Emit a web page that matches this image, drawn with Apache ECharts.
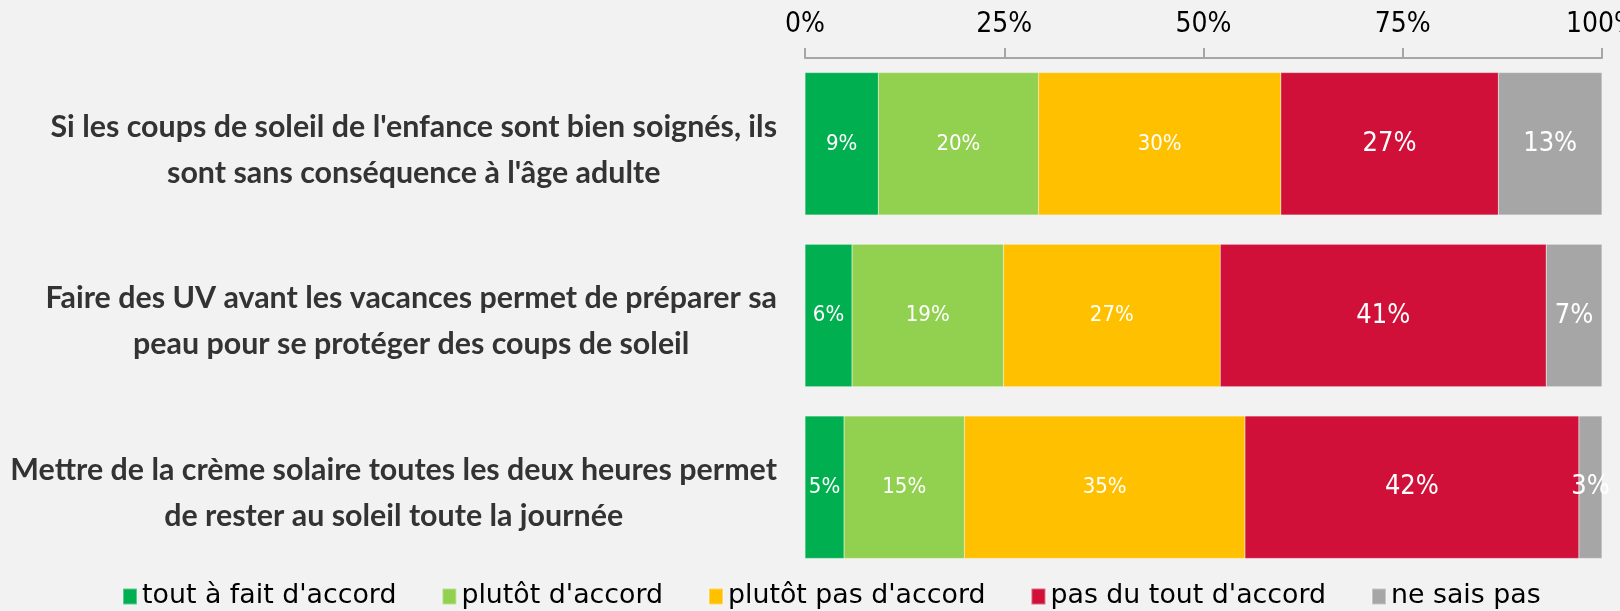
<!DOCTYPE html>
<html>
<head>
<meta charset="utf-8">
<script src="https://cdn.jsdelivr.net/npm/echarts@6/dist/echarts.min.js"></script>
<style>
  html, body { margin: 0; padding: 0; background: #f2f2f2; }
  #chart { width: 1620px; height: 611px; }
</style>
</head>
<body>
<div id="chart"></div>
<script>
// statements (top to bottom)
const categories = [
	"Si les coups de soleil de l'enfance sont bien soignés, ils\nsont sans conséquence à l'âge adulte",
	"Faire des UV avant les vacances permet de préparer sa\npeau pour se protéger des coups de soleil",
	"Mettre de la crème solaire toutes les deux heures permet\nde rester au soleil toute la journée"
];
const seriesNames = ["tout à fait d'accord", "plutôt d'accord", "plutôt pas d'accord", "pas du tout d'accord", "ne sais pas"];

// shares in %, one value per statement
const toutAFait = [9.2, 5.9, 4.9];
const plutotAccord = [20.1, 19.0, 15.1];
const plutotPas = [30.4, 27.2, 35.2];
const pasDuTout = [27.3, 40.9, 41.9];
const neSaisPas = [13.0, 7.0, 2.9];

const xTicks = [0, 25, 50, 75, 100];

const colors = ['#00b050', '#92d050', '#ffc000', '#d01039', '#a6a6a6'];
const labelSizes = [22, 22, 22, 27, 27];
const narrowFont = '"DejaVu Sans Condensed", "DejaVu Sans"';

const chart = echarts.init(document.getElementById('chart'), null, { renderer: 'canvas' });

const allValues = [toutAFait, plutotAccord, plutotPas, pasDuTout, neSaisPas];

const series = allValues.map((vals, i) => ({
	name: seriesNames[i],
	type: 'bar',
	stack: 'total',
	barCategoryGap: '17%',
	data: vals,
	itemStyle: {
		color: colors[i],
		borderColor: 'rgba(255,255,255,0.35)',
		borderWidth: 0.5
	},
	label: {
		show: true,
		position: 'inside',
		color: '#ffffff',
		fontFamily: narrowFont,
		fontSize: labelSizes[i],
		formatter: p => Math.round(p.value) + '%'
	}
}));

const option = {
	backgroundColor: '#f2f2f2',
	animation: false,
	color: colors,
	grid: { left: 805, right: 18, top: 58, bottom: 38, outerBoundsMode: 'none', containLabel: false },
	legend: {
		left: 122,
		top: 583,
		padding: 0,
		itemWidth: 14,
		itemHeight: 16,
		itemGap: 45,
		itemTextGap: 9,
		icon: 'rect',
		textStyle: { fontFamily: 'DejaVu Sans', fontSize: 26.8, color: '#000' },
		data: seriesNames
	},
	xAxis: {
		type: 'value',
		position: 'top',
		min: xTicks[0],
		max: xTicks[xTicks.length - 1],
		interval: xTicks[1] - xTicks[0],
		axisLine: { show: true, lineStyle: { color: '#a6a6a6', width: 2 } },
		axisTick: { show: true, length: 10, lineStyle: { color: '#a6a6a6', width: 2 } },
		splitLine: { show: false },
		axisLabel: {
			margin: 19,
			fontFamily: narrowFont,
			fontSize: 28,
			color: '#000',
			formatter: '{value}%'
		}
	},
	yAxis: {
		type: 'category',
		inverse: true,
		data: categories,
		axisLine: { show: false },
		axisTick: { show: false },
		axisLabel: {
			margin: 28,
			align: 'right',
			padding: [12, 0, 0, 0],
			formatter: v => v.split('\n').map(s => '{c|' + s + '}').join('\n'),
			rich: {
				c: {
					align: 'center',
					fontFamily: 'Lato',
					fontWeight: 'bold',
					fontSize: 30.4,
					lineHeight: 46,
					color: '#333'
				}
			}
		}
	},
	series: series
};

if (option && typeof option === 'object') {
	chart.setOption(option);
}
</script>
</body>
</html>
